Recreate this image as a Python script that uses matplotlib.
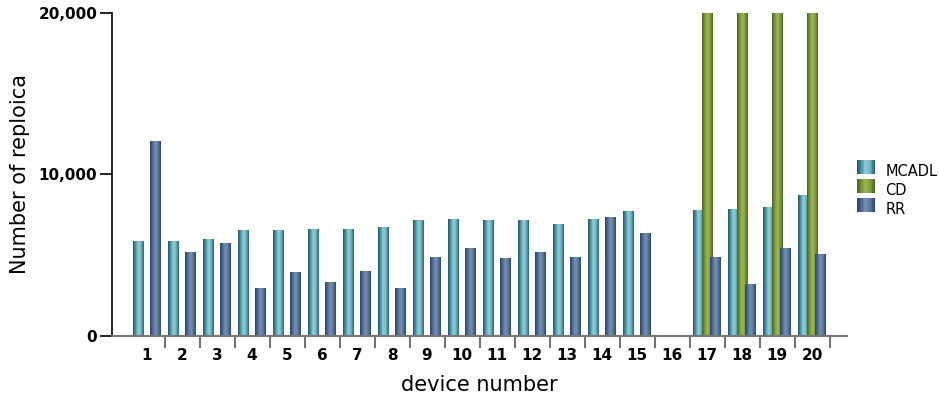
import numpy as np
import matplotlib
matplotlib.use("Agg")
import matplotlib.pyplot as plt
from matplotlib.colors import LinearSegmentedColormap
from matplotlib.ticker import FuncFormatter
from matplotlib.legend_handler import HandlerBase

devices = list(range(1, 21))
series = ["MCADL", "CD", "RR"]
mcadl = [5880, 5880, 6000, 6560, 6560, 6620, 6620, 6690, 7180, 7240,
         7180, 7180, 6930, 7240, 7680, 0, 7740, 7860, 7930, 8730]
cd = [0, 0, 0, 0, 0, 0, 0, 0, 0, 0,
      0, 0, 0, 0, 0, 0, 30000, 30000, 30000, 30000]
rr = [12070, 5140, 5700, 2970, 3960, 3340, 4020, 2970, 4890, 5390,
      4770, 5140, 4890, 7310, 6320, 0, 4830, 3160, 5390, 5020]
values = [mcadl, cd, rr]

# dark edge -> light middle -> dark edge
shades = {
    "MCADL": ["#23545f", "#4f98a6", "#93d0dc", "#6fb2c0", "#2b6170"],
    "CD": ["#4b6026", "#78983a", "#9cbb55", "#7d9c3e", "#4f6528"],
    "RR": ["#2a4366", "#4e6c92", "#7892b5", "#5a779c", "#2c4669"],
}
offsets = [-0.25, 0.0, 0.25]
width = 0.31
ymax = 20000

fig = plt.figure(figsize=(9.39, 3.97), dpi=100)
ax = fig.add_axes([112 / 939, 61 / 397, 735 / 939, 323 / 397])

grad = np.linspace(0, 1, 64).reshape(1, -1)
x = np.array(devices, dtype=float)
cmaps = {}
for name, vals, off in zip(series, values, offsets):
    cmap = LinearSegmentedColormap.from_list(name, shades[name])
    cmaps[name] = cmap
    bars = ax.bar(x + off, vals, width=width, color="none", edgecolor="none",
                  label=name)
    for b in bars:
        h = min(b.get_height(), ymax)
        if h <= 0:
            continue
        x0 = b.get_x()
        ax.imshow(grad, cmap=cmap, aspect="auto",
                  extent=(x0, x0 + b.get_width(), 0, h),
                  interpolation="bilinear", zorder=2)

ax.set_xlim(0, 21)
ax.set_ylim(0, ymax)

tick_len = 12 * 72 / 100  # 12 px in points

ax.set_yticks([0, 10000, 20000])
ax.yaxis.set_major_formatter(FuncFormatter(lambda v, p: f"{int(v):,}"))
ax.tick_params(axis="y", length=tick_len, width=1.2, color="black", pad=2,
               labelsize=11)
for t in ax.get_yticklabels():
    t.set_fontweight("bold")

ax.set_xticks(x)
ax.set_xticklabels([str(d) for d in devices], fontweight="bold", fontsize=11)
ax.tick_params(axis="x", which="major", length=0, pad=9)
ax.set_xticks(np.arange(1.5, 21, 1.0), minor=True)
ax.tick_params(axis="x", which="minor", length=tick_len, width=1.2,
               color="#555555")

for s in ["top", "right"]:
    ax.spines[s].set_visible(False)
ax.spines["left"].set_color("black")
ax.spines["left"].set_linewidth(1.2)
ax.spines["bottom"].set_color("#777777")
ax.spines["bottom"].set_linewidth(1.5)

fig.text(20 / 939, 1 - 174 / 397, "Number of reploica", rotation=90,
         ha="center", va="center", fontsize=15)
ax.set_xlabel("device number", fontsize=15, labelpad=8)


class GradHandler(HandlerBase):
    def create_artists(self, legend, orig, xd, yd, w, h, fontsize, trans):
        cmap = cmaps[orig.get_label()]
        n = 12
        arts = []
        for i in range(n):
            r = plt.Rectangle((xd + w * i / n, yd), w / n + 0.3, h,
                              facecolor=cmap(i / (n - 1)), edgecolor="none",
                              transform=trans)
            arts.append(r)
        return arts


handles, labels = ax.get_legend_handles_labels()
ax.legend(handles, labels, loc="upper left",
          bbox_to_anchor=(739 / 735, 178 / 323), frameon=False,
          fontsize=10.5, handlelength=1.25, handleheight=1.1,
          handletextpad=0.7, labelspacing=0.28, borderaxespad=0,
          handler_map={h: GradHandler() for h in handles})

fig.savefig("out.png", dpi=100)
